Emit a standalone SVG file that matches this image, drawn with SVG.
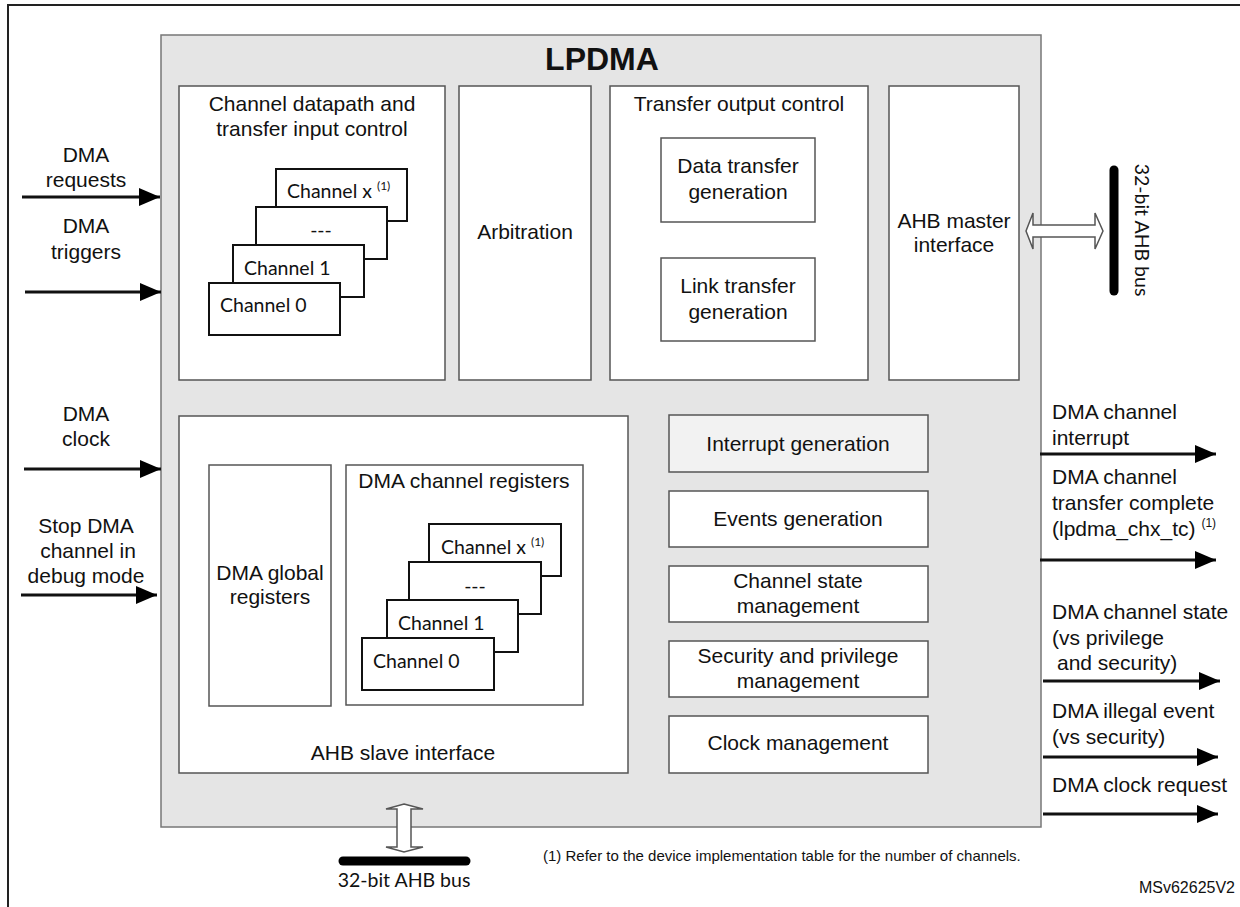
<svg xmlns="http://www.w3.org/2000/svg" width="1240" height="907" viewBox="0 0 1240 907">
<defs>
<style>
.t{font-family:"Liberation Sans",Arial,sans-serif;font-size:21px;fill:#111}
.c{text-anchor:middle}
.cal{font-family:Lato,"Open Sans",sans-serif;font-size:19.5px;fill:#111}
.sup{font-size:12px}
.box{fill:#fff;stroke:#555;stroke-width:1.5}
.ch{fill:#fff;stroke:#111;stroke-width:2}
.sig{stroke:#111;stroke-width:3;fill:none}
.bus{stroke:#000;stroke-width:9;stroke-linecap:round}
.dbl{fill:#fff;stroke:#555;stroke-width:1.5}
</style>
<marker id="ah" viewBox="0 0 21 18" markerUnits="userSpaceOnUse" markerWidth="21" markerHeight="18" refX="21" refY="9" orient="auto">
<path d="M0,0 L21,9 L0,18 z" fill="#000"/>
</marker>
</defs>
<rect width="1240" height="907" fill="#fff"/>
<path d="M8,910 V5 H1240" fill="none" stroke="#222" stroke-width="2"/>

<g id="lpdma">
<rect x="161" y="35" width="880" height="792" fill="#e5e5e5" stroke="#777" stroke-width="1.5"/>
<text x="602" y="70" class="t c" style="font-size:32px;font-weight:bold">LPDMA</text>
</g>

<g id="datapath">
<rect class="box" x="179" y="86" width="266" height="294"/>
<text class="t c" x="312" y="111">Channel datapath and</text>
<text class="t c" x="312" y="136">transfer input control</text>
<rect class="ch" x="276" y="169" width="131" height="52"/>
<text class="cal" x="287" y="198">Channel x <tspan class="sup" dy="-8">(1)</tspan></text>
<rect class="ch" x="256" y="207" width="131" height="52"/>
<text class="cal c" x="321" y="237">---</text>
<rect class="ch" x="233" y="245" width="131" height="52"/>
<text class="cal" x="244" y="275">Channel 1</text>
<rect class="ch" x="209" y="283" width="131" height="52"/>
<text class="cal" x="220" y="312">Channel 0</text>
</g>

<g id="arbitration">
<rect class="box" x="459" y="86" width="132" height="294"/>
<text class="t c" x="525" y="239">Arbitration</text>
</g>

<g id="transfer-output">
<rect class="box" x="610" y="86" width="258" height="294"/>
<text class="t c" x="739" y="111">Transfer output control</text>
<rect class="box" x="661" y="138" width="154" height="84"/>
<text class="t c" x="738" y="173">Data transfer</text>
<text class="t c" x="738" y="199">generation</text>
<rect class="box" x="661" y="258" width="154" height="83"/>
<text class="t c" x="738" y="293">Link transfer</text>
<text class="t c" x="738" y="319">generation</text>
</g>

<g id="ahb-master">
<rect class="box" x="889" y="86" width="130" height="294"/>
<text class="t c" x="954" y="228">AHB master</text>
<text class="t c" x="954" y="252">interface</text>
</g>

<g id="ahb-slave">
<rect class="box" x="179" y="416" width="449" height="357"/>
<text class="t c" x="403" y="760">AHB slave interface</text>
<rect class="box" x="209" y="465" width="122" height="241"/>
<text class="t c" x="270" y="580">DMA global</text>
<text class="t c" x="270" y="604">registers</text>
<rect class="box" x="346" y="465" width="237" height="240"/>
<text class="t c" x="464" y="488">DMA channel registers</text>
<rect class="ch" x="429" y="524" width="132" height="52"/>
<text class="cal" x="441" y="554">Channel x <tspan class="sup" dy="-8">(1)</tspan></text>
<rect class="ch" x="409" y="562" width="132" height="52"/>
<text class="cal c" x="475" y="593">---</text>
<rect class="ch" x="387" y="600" width="131" height="52"/>
<text class="cal" x="398" y="630">Channel 1</text>
<rect class="ch" x="362" y="638" width="132" height="52"/>
<text class="cal" x="373" y="668">Channel 0</text>
</g>

<g id="interrupt-gen">
<rect x="669" y="415" width="259" height="57" fill="#f2f2f2" stroke="#555" stroke-width="1.5"/>
<text class="t c" x="798" y="451">Interrupt generation</text>
</g>
<g id="events-gen">
<rect class="box" x="669" y="491" width="259" height="56"/>
<text class="t c" x="798" y="526">Events generation</text>
</g>
<g id="channel-state">
<rect class="box" x="669" y="566" width="259" height="56"/>
<text class="t c" x="798" y="588">Channel state</text>
<text class="t c" x="798" y="613">management</text>
</g>
<g id="security">
<rect class="box" x="669" y="641" width="259" height="56"/>
<text class="t c" x="798" y="663">Security and privilege</text>
<text class="t c" x="798" y="688">management</text>
</g>
<g id="clock-mgmt">
<rect class="box" x="669" y="716" width="259" height="57"/>
<text class="t c" x="798" y="750">Clock management</text>
</g>

<g id="bus-right">
<line class="bus" x1="1114" y1="170" x2="1114" y2="291"/>
<text class="cal" transform="translate(1135,230) rotate(90)" text-anchor="middle">32-bit AHB bus</text>
</g>
<g id="bus-bottom">
<line class="bus" x1="343" y1="861" x2="466" y2="861"/>
<text class="cal c" x="404" y="887">32-bit AHB bus</text>
</g>

<g id="connectors">
<path class="dbl" d="M1026,231 L1033,213 L1033,225 L1095,225 L1095,213 L1103,231 L1095,249 L1095,237 L1033,237 L1033,249 Z"/>
<path class="dbl" d="M404,804 L423,809 L411,809 L411,847 L423,847 L404,852 L386,847 L397,847 L397,809 L386,809 Z"/>
<line class="sig" x1="22" y1="197" x2="160" y2="197" marker-end="url(#ah)"/>
<line class="sig" x1="25" y1="292" x2="161" y2="292" marker-end="url(#ah)"/>
<line class="sig" x1="24" y1="469" x2="161" y2="469" marker-end="url(#ah)"/>
<line class="sig" x1="21" y1="595" x2="157" y2="595" marker-end="url(#ah)"/>
<line class="sig" x1="1040" y1="454" x2="1216" y2="454" marker-end="url(#ah)"/>
<line class="sig" x1="1040" y1="560" x2="1216" y2="560" marker-end="url(#ah)"/>
<line class="sig" x1="1043" y1="681" x2="1220" y2="681" marker-end="url(#ah)"/>
<line class="sig" x1="1043" y1="757" x2="1218" y2="757" marker-end="url(#ah)"/>
<line class="sig" x1="1043" y1="814" x2="1218" y2="814" marker-end="url(#ah)"/>
</g>

<g id="labels-left">
<text class="t c" x="86" y="162">DMA</text>
<text class="t c" x="86" y="187">requests</text>
<text class="t c" x="86" y="233">DMA</text>
<text class="t c" x="86" y="259">triggers</text>
<text class="t c" x="86" y="421">DMA</text>
<text class="t c" x="86" y="446">clock</text>
<text class="t c" x="86" y="533">Stop DMA</text>
<text class="t c" x="88" y="558">channel in</text>
<text class="t c" x="86" y="583">debug mode</text>
</g>

<g id="labels-right">
<text class="t" x="1052" y="419">DMA channel</text>
<text class="t" x="1052" y="445">interrupt</text>
<text class="t" x="1052" y="484">DMA channel</text>
<text class="t" x="1052" y="510">transfer complete</text>
<text class="t" x="1052" y="536">(lpdma_chx_tc) <tspan style="font-size:12px" dy="-9">(1)</tspan></text>
<text class="t" x="1052" y="619">DMA channel state</text>
<text class="t" x="1052" y="645">(vs privilege</text>
<text class="t" x="1057" y="670">and security)</text>
<text class="t" x="1052" y="718">DMA illegal event</text>
<text class="t" x="1052" y="744">(vs security)</text>
<text class="t" x="1052" y="792">DMA clock request</text>
</g>

<g id="notes">
<text class="t" x="543" y="861" style="font-size:15px">(1) Refer to the device implementation table for the number of channels.</text>
<text class="t" x="1235" y="893" text-anchor="end" style="font-size:16px">MSv62625V2</text>
</g>
</svg>
